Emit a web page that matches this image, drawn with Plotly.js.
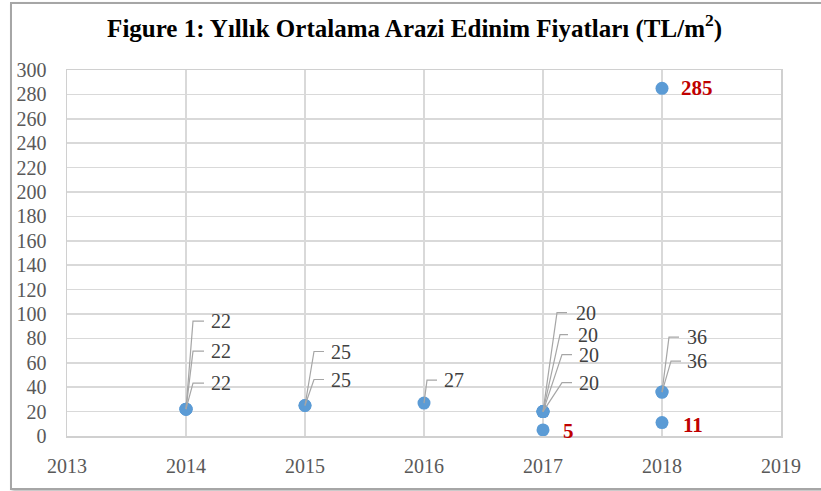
<!DOCTYPE html>
<html>
<head>
<meta charset="utf-8">
<script src="https://cdn.plot.ly/plotly-3.0.1.min.js"></script>
<style>
  html, body { margin: 0; padding: 0; background: #ffffff; }
  #wrap { position: relative; width: 821px; height: 491px; overflow: hidden; }
  #chart { position: absolute; left: 0; top: 0; width: 821px; height: 491px; }
  #frame { position: absolute; left: 10px; top: 2px; width: 840px; height: 484px;
           border: 2px solid #a6a6a6; box-shadow: 2px 2px 3px rgba(0,0,0,0.25); pointer-events: none; }
</style>
</head>
<body>
<div id="wrap">
  <div id="chart"></div>
  <div id="frame"></div>
</div>
<script>
// ---- data ----
const years  = [2014, 2014, 2014, 2015, 2015, 2016, 2017, 2017, 2017, 2017, 2017, 2018, 2018, 2018, 2018];
const values = [22, 22, 22, 25, 25, 27, 20, 20, 20, 20, 5, 285, 36, 36, 11];
const labelText = ['22', '22', '22', '25', '25', '27', '20', '20', '20', '20', '5', '285', '36', '36', '11'];
const highlighted = [false, false, false, false, false, false, false, false, false, false, true, true, false, false, true];
const xTickVals = [2013, 2014, 2015, 2016, 2017, 2018, 2019];
const yTickVals = [0, 20, 40, 60, 80, 100, 120, 140, 160, 180, 200, 220, 240, 260, 280, 300];
const titleText = 'Figure 1: Yıllık Ortalama Arazi Edinim Fiyatları (TL/m<sup>2</sup>)';

// ---- label layout (pixel offsets from the point: leader start x, leader end x, text x, text y up) ----
const labelLayout = [
  [7, 18, 23, 88], [7, 18, 23, 58], [7, 18, 23, 26],
  [9, 19, 24, 54], [9, 19, 24, 26],
  [3, 13, 18, 23],
  [14, 24, 31, 99], [17, 25, 33, 77], [19, 29, 34, 57], [19, 29, 34, 29],
  [null, null, 18, -1],
  [null, null, 17, 0],
  [7, 17, 23, 55], [9, 19, 23, 31],
  [null, null, 19, -2]
];

const serif = '"Times New Roman", "Liberation Serif", serif';
const annotations = [];
const shapes = [];
years.forEach((yr, i) => {
  const [sx, ex, tx, dy] = labelLayout[i];
  annotations.push({
    x: yr, y: values[i], xref: 'x', yref: 'y',
    text: labelText[i], showarrow: false,
    xanchor: 'left', yanchor: 'middle',
    xshift: tx, yshift: dy,
    font: highlighted[i]
      ? { family: serif, size: 21, color: '#c00000', weight: 'bold' }
      : { family: serif, size: 20, color: '#404040' }
  });
  if (sx !== null) {
    shapes.push({
      type: 'path', xref: 'x', yref: 'y',
      xsizemode: 'pixel', ysizemode: 'pixel',
      xanchor: yr, yanchor: values[i],
      path: `M0,0 L${sx},${dy} L${ex},${dy}`,
      line: { color: '#a6a6a6', width: 1.2 },
      layer: 'above'
    });
  }
});

const trace = {
  type: 'scatter', mode: 'markers',
  x: years, y: values,
  marker: { color: '#5b9bd5', size: 13 },
  hoverinfo: 'x+y'
};

const layout = {
  width: 821, height: 491,
  margin: { l: 67, r: 40, t: 70, b: 55 },
  paper_bgcolor: '#ffffff', plot_bgcolor: '#ffffff',
  showlegend: false,
  title: {
    text: titleText,
    font: { family: serif, size: 25, color: '#000000', weight: 'bold' },
    x: 0.505, xanchor: 'center', y: 0.943, yanchor: 'middle'
  },
  xaxis: {
    range: [2013, 2019], tickvals: xTickVals, ticktext: xTickVals.map(String),
    showgrid: true, gridcolor: '#d9d9d9', gridwidth: 1.5,
    showline: true, linecolor: '#d0d0d0', linewidth: 1.5, mirror: true,
    zeroline: false, ticks: '', ticklabelstandoff: 11,
    tickfont: { family: serif, size: 20, color: '#595959' }
  },
  yaxis: {
    range: [0, 300], tickvals: yTickVals,
    showgrid: true, gridcolor: '#d9d9d9', gridwidth: 1.5,
    showline: true, linecolor: '#d0d0d0', linewidth: 1.5, mirror: true,
    zeroline: false, ticks: '', ticklabelstandoff: 15,
    tickfont: { family: serif, size: 20, color: '#595959' }
  },
  annotations: annotations,
  shapes: shapes
};

Plotly.newPlot('chart', [trace], layout, { displayModeBar: false, staticPlot: true });
</script>
</body>
</html>
